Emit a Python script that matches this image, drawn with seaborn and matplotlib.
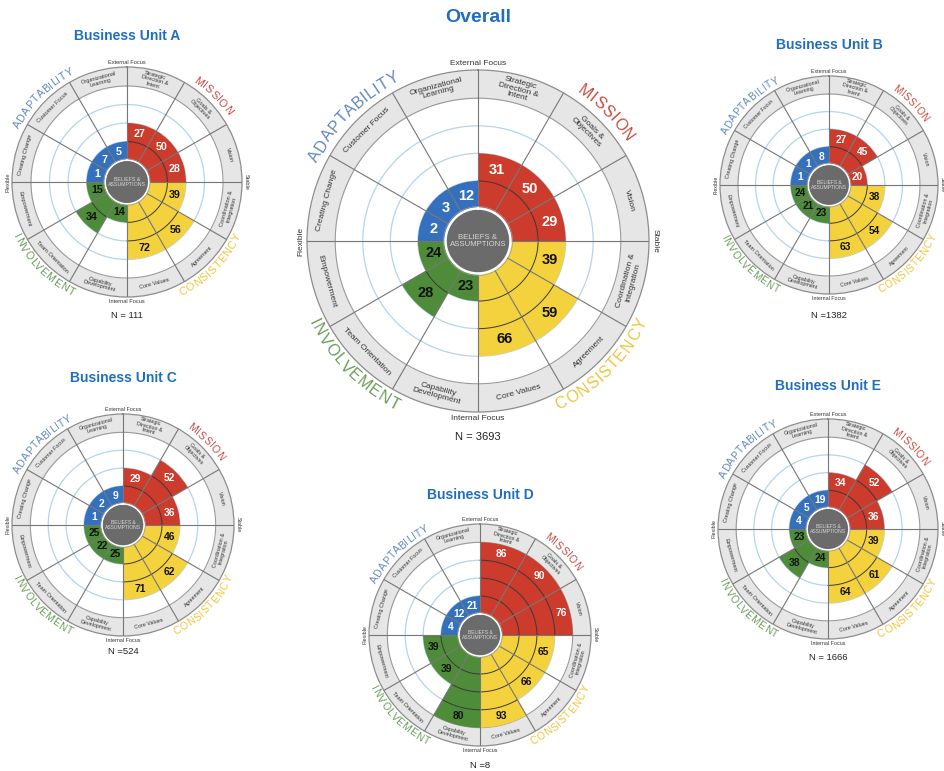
import numpy as np
import matplotlib
matplotlib.use("Agg")
import matplotlib.pyplot as plt
import seaborn as sns
from matplotlib.font_manager import FontProperties
from matplotlib.textpath import TextToPath

# sectors run clockwise from 12 o'clock, three per quadrant
sectors = ["Strategic\nDirection &\nIntent", "Goals &\nObjectives", "Vision",
           "Coordination &\nIntegration", "Agreement", "Core Values",
           "Capability\nDevelopment", "Team Orientation", "Empowerment",
           "Creating Change", "Customer Focus", "Organizational\nLearning"]
quadrants = ["MISSION", "CONSISTENCY", "INVOLVEMENT", "ADAPTABILITY"]
axis_labels = ["External Focus", "Stable", "Internal Focus", "Flexible"]

# percentile scores per sector
overall_scores = [31, 50, 29, 39, 59, 66, 23, 28, 24, 2, 3, 12]
unit_a_scores = [27, 50, 28, 39, 56, 72, 14, 34, 15, 1, 7, 5]
unit_b_scores = [27, 45, 20, 38, 54, 63, 23, 21, 24, 1, 1, 8]
unit_c_scores = [29, 52, 36, 46, 62, 71, 25, 22, 25, 1, 2, 9]
unit_d_scores = [86, 90, 76, 65, 66, 93, 80, 39, 39, 4, 12, 21]
unit_e_scores = [34, 52, 36, 39, 61, 64, 24, 38, 23, 4, 5, 19]

titles = ["Overall", "Business Unit A", "Business Unit B",
          "Business Unit C", "Business Unit D", "Business Unit E"]
sample_sizes = ["N = 3693", "N = 111", "N =1382", "N =524", "N =8", "N = 1666"]
all_scores = [overall_scores, unit_a_scores, unit_b_scores,
              unit_c_scores, unit_d_scores, unit_e_scores]

# layout in pixels: centre x, centre y, radius, title y, N label y
layout = [(478, 241, 171, 17, 437),
          (127, 182, 115, 36, 315),
          (829, 185, 109, 45, 315),
          (123, 525, 111, 378, 651),
          (480, 635, 111, 495, 765),
          (828, 529, 110, 386, 657)]

fill_colors = sns.color_palette(["#CC3B2C", "#F3D23E", "#4E8C3A", "#3470BE"])
label_colors = ["#C94A3F", "#EFC43C", "#6A9B57", "#6385C2"]
value_colors = ["white", "#111111", "#111111", "white"]
title_blue = "#1F6EC0"

sns.set_theme(style="white")
plt.rcParams["font.family"] = ["Liberation Sans", "DejaVu Sans"]

W, H = 945, 771
fig = plt.figure(figsize=(W / 100, H / 100), dpi=100)
fig.patch.set_facecolor("white")

R0 = 0.19          # centre circle
Q4 = 0.835         # outer edge of the white area
STEP = (Q4 - R0) / 4
ttp = TextToPath()


def curved_label(ax, text, center_deg, radius, R, size, color, upper):
    fp = FontProperties(family="Liberation Sans", size=size)
    ends = np.array([ttp.get_text_width_height_descent(text[:i + 1], fp, ismath=False)[0]
                     for i in range(len(text))]) * 100 / 72 * 1.1
    starts = np.concatenate([[0], ends[:-1]])
    mids = (starts + ends) / 2 - ends[-1] / 2
    r_px = radius * R
    for ch, m in zip(text, mids):
        d = np.rad2deg(m / r_px)
        deg = center_deg + d if upper else center_deg - d
        rot = -deg if upper else 180 - deg
        ax.text(np.deg2rad(deg), radius, ch, rotation=rot, rotation_mode="anchor",
                ha="center", va="center", fontsize=size, color=color)


def draw_chart(title, scores, n_text, cx, cy, R, ty, ny):
    s = R / 171
    ax = fig.add_axes([(cx - R) / W, 1 - (cy + R) / H, 2 * R / W, 2 * R / H],
                      projection="polar")
    ax.set_theta_zero_location("N")
    ax.set_theta_direction(-1)
    ax.set_ylim(0, 1)
    ax.set_xticks([])
    ax.set_yticks([])
    ax.grid(False)
    ax.set_facecolor("white")
    ax.spines["polar"].set_color("#8c8c8c")
    ax.spines["polar"].set_linewidth(0.9)

    full = np.linspace(0, 2 * np.pi, 361)
    ax.fill_between(full, Q4, 1, color="#E6E6E6", lw=0, zorder=1)
    for k in range(1, 4):
        ax.plot(full, np.full(361, R0 + k * STEP), color="#B4D4EC", lw=0.9, zorder=1)
    ax.plot(full, np.full(361, Q4), color="#9a9a9a", lw=0.8, zorder=2)

    levels = np.clip(np.ceil(np.array(scores) / 25), 1, 4)
    theta = np.deg2rad(np.arange(12) * 30 + 15)
    colors = [fill_colors[i // 3] for i in range(12)]
    ax.bar(theta, levels * STEP, width=np.deg2rad(30), bottom=R0,
           color=colors, lw=0, zorder=2)

    # quartile rings inside the filled wedges
    for i, lv in enumerate(levels):
        arc = np.linspace(np.deg2rad(i * 30), np.deg2rad(i * 30 + 30), 20)
        for k in range(1, int(lv)):
            ax.plot(arc, np.full(20, R0 + k * STEP), color="#3a3a3a", lw=0.7, zorder=3)

    for i in range(12):
        t = np.deg2rad(i * 30)
        ax.plot([t, t], [R0, 1], color="#767676", lw=0.8, zorder=4)

    # centre circle
    ax.fill_between(full, 0, R0, color="#6b6b6b", lw=0, zorder=5)
    ax.plot(full, np.full(361, R0), color="white", lw=1.8 * s, zorder=5)
    ax.plot(full, np.full(361, R0 + 0.012), color="#9a9a9a", lw=0.5, zorder=5)
    ax.text(0, 0, "BELIEFS &\nASSUMPTIONS", ha="center", va="center",
            fontsize=5.6 * s, color="#d8d8d8", linespacing=1.0, zorder=6)

    for i, (v, lv) in enumerate(zip(scores, levels)):
        ax.text(theta[i], R0 + STEP * (lv - 0.5), str(v), ha="center", va="center",
                fontsize=10.5 * s ** 0.8, fontweight="bold", color=value_colors[i // 3],
                zorder=6)

    for i, name in enumerate(sectors):
        deg = i * 30 + 15
        rot = (-deg + 90) % 180 - 90
        ax.text(theta[i], (Q4 + 1) / 2, name, rotation=rot, rotation_mode="anchor",
                ha="center", va="center", fontsize=6 * s, color="#333333",
                linespacing=1.0, multialignment="center", zorder=6)

    fs = 6 * s
    ax.text(0, 1.015, axis_labels[0], ha="center", va="bottom", fontsize=fs, color="#333333")
    ax.text(np.pi / 2, 1.015, axis_labels[1], rotation=-90, ha="left", va="center",
            fontsize=fs, color="#333333")
    ax.text(np.pi, 1.015, axis_labels[2], ha="center", va="top", fontsize=fs, color="#333333")
    ax.text(3 * np.pi / 2, 1.015, axis_labels[3], rotation=90, ha="right", va="center",
            fontsize=fs, color="#333333")

    for q, name in enumerate(quadrants):
        curved_label(ax, name, 45 + 90 * q, 1.07, R, 11.5 * s, label_colors[q],
                     upper=q in (0, 3))

    big = title == "Overall"
    fig.text(cx / W, 1 - ty / H, title, ha="center", va="center",
             fontsize=14 if big else 10, fontweight="bold", color=title_blue)
    fig.text(cx / W, 1 - ny / H, n_text, ha="center", va="center",
             fontsize=8 if big else 6.8, color="#222222")


for title, scores, n_text, (cx, cy, R, ty, ny) in zip(titles, all_scores, sample_sizes, layout):
    draw_chart(title, scores, n_text, cx, cy, R, ty, ny)

fig.savefig("out.png", dpi=100)
